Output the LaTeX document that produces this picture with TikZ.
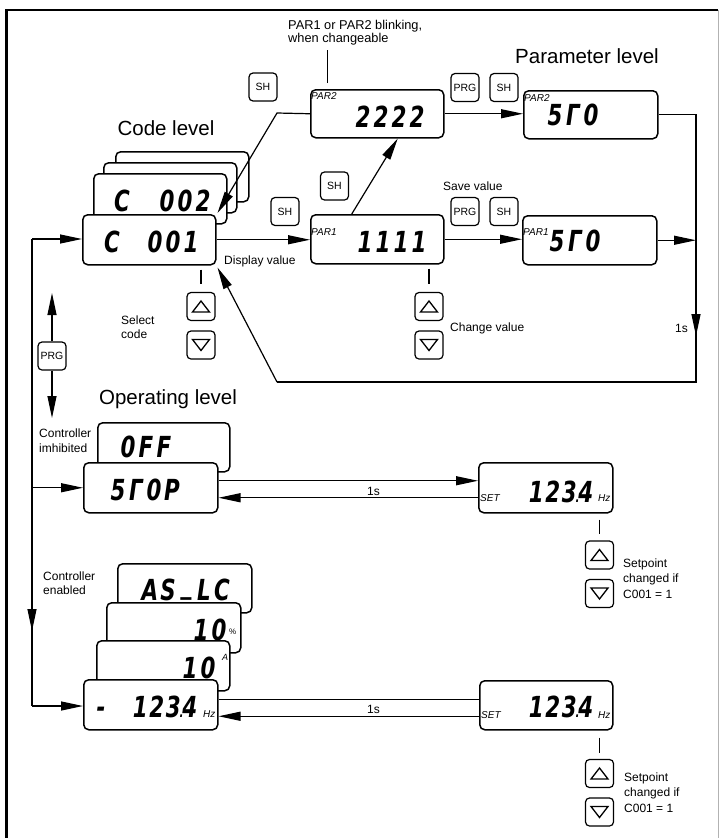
\documentclass[tikz,border=0pt]{standalone}
\usepackage{fontspec}
\setmainfont{Liberation Sans}
\newfontfamily\segf{DejaVu Sans Condensed}[FakeStretch=0.82]
\usetikzlibrary{arrows.meta,calc}
\newcommand\sd[1]{\makebox[18pt][c]{#1}}
\newcommand\sdn[1]{\makebox[16.5pt][c]{#1}}
\newcommand\segdot{\makebox[0pt][c]{\fontsize{14}{14}\selectfont.}}
\begin{document}
\begin{tikzpicture}[x=1pt,y=-1pt,
  disp/.style={draw, line width=1.5pt, rounded corners=5pt, fill=white, anchor=north west, inner sep=0, minimum width=133pt, minimum height=49pt},
  btn/.style={draw, line width=1.2pt, rounded corners=4pt, fill=white, inner sep=0, minimum width=28pt, minimum height=28pt, font=\fontsize{10.5}{11}\selectfont},
  seg/.style={font=\segf\bfseries\itshape\fontsize{29}{29}\selectfont, inner sep=0, anchor=base},
  tag/.style={font=\itshape\fontsize{10}{10}\selectfont, inner sep=0, anchor=base west},
  lab/.style={font=\fontsize{12}{15}\selectfont, inner sep=0, anchor=base west},
  mlab/.style={font=\fontsize{12}{#1}\selectfont, inner sep=0, anchor=north west, align=left},
  big/.style={font=\fontsize{20.5}{24}\selectfont, inner sep=0, anchor=base},
  arr/.style={-{Triangle[length=22pt,width=9pt]}, line width=1.2pt},
  ln/.style={line width=1.2pt},
  uptri/.pic={\draw[line width=1.3pt] (-8.5,5.5)--(8.5,5.5)--(0,-5.5)--cycle;},
  dntri/.pic={\draw[line width=1.3pt] (-8.5,-5.5)--(8.5,-5.5)--(0,5.5)--cycle;}
]
\useasboundingbox (0,0) rectangle (720,838);
% frame
\draw[line width=2.2pt] (6.5,838) -- (6.5,10) -- (718,10);
\draw[gray!60, line width=1pt] (718.5,10) -- (718.5,838);

% ---------- code level ----------
\node[big] (tcode) at (166,135) {Code level};
\node[disp, minimum height=50pt] (cb3) at (115,151) {};
\node[disp, minimum height=50pt] (cb2) at (103,162) {};
\node[disp, minimum height=50pt] (c002) at (93,173) {};
\node[disp, minimum height=50pt] (c001) at (82,214) {};
\node[seg] (c002a) at (122,211) {C};
\node[seg] (c002b) at (185,211) {\sd{0}\sd{0}\sd{2}};
\node[seg] (c001a) at (112,252) {C};
\node[seg] (c001b) at (173,252) {\sd{0}\sd{0}\sd{1}};

% ---------- PAR displays ----------
\node[mlab=13pt, font=\fontsize{12.8}{13}\selectfont] (tblink) at (288,20) {PAR1 or PAR2 blinking,\\when changeable};
\node[disp, minimum height=48pt] (p2) at (310,89) {};
\node[tag] (p2t) at (311,99) {PAR2};
\node[seg] (p2v) at (390,127) {\sd{2}\sd{2}\sd{2}\sd{2}};
\node[disp] (p1) at (310,214) {};
\node[tag] (p1t) at (311,235) {PAR1};
\node[seg] (p1v) at (392,252) {\sd{1}\sd{1}\sd{1}\sd{1}};

\node[big] (tpar) at (587,63) {Parameter level};
\node[disp, minimum height=48pt, minimum width=134pt] (s2) at (523,90) {};
\node[tag] (s2t) at (524,101) {PAR2};
\node[seg] (s2v) at (573,125) {\sd{5}\sd{Γ}\sd{0}};
\node[disp, minimum width=134pt] (s1) at (522,215) {};
\node[tag] (s1t) at (523,235) {PAR1};
\node[seg] (s1v) at (575,251) {\sd{5}\sd{Γ}\sd{0}};

% buttons
\node[btn] (sh1) at (263,87) {SH};
\node[btn] (sh2) at (334.5,186) {SH};
\node[btn] (sh3) at (285,211.5) {SH};
\node[btn] (prg1) at (465,87.5) {PRG};
\node[btn] (sh4) at (504,87.5) {SH};
\node[btn] (prg2) at (465,211.5) {PRG};
\node[btn] (sh5) at (504,211.5) {SH};
\node[btn] (up1) at (201,306.5) {};
\node[btn] (dn1) at (201,345) {};
\node[btn] (up2) at (429,306.5) {};
\node[btn] (dn2) at (429,345) {};
\node[btn] (prgl) at (52,356) {PRG};
\pic at (up1.center) {uptri};
\pic at (dn1.center) {dntri};
\pic at (up2.center) {uptri};
\pic at (dn2.center) {dntri};

\node[lab] (tsave) at (443,190) {Save value};
\node[lab] (tdisp) at (224,264) {Display value};
\node[mlab=14pt] (tsel) at (121,315.5) {Select\\code};
\node[lab] (tchg) at (450,331) {Change value};
\node[lab] (t1s) at (675,332) {1s};

% connectors, upper part
\coordinate (rt) at (696,113);
\coordinate (rb) at (696,382);
\coordinate (lb) at (277,382);
\coordinate (tl) at (277,113);
\coordinate (ra) at (696,300);
\coordinate (rc) at (696,336);
\draw[ln] ([xshift=-49.5pt,yshift=6pt]p2.north) -- ++(0,-33);
\draw[arr] (p2.west) -- (tl) -- ([xshift=1pt,yshift=1pt]c001.north east);
\draw[arr] ([xshift=-25.5pt]p1.north) -- ([xshift=20.5pt]p2.south);
\draw[arr] (c001.east) -- (c001.east -| p1.west);
\draw[arr] (p1.east) -- (p1.east -| s1.west);
\draw[arr] (p2.east) -- (p2.east -| s2.west);
\draw[arr] (s1.east) -- (s1.east -| rt);
\draw[ln] (s2.east) -- (s2.east -| rt) -- (rb) -- (lb);
\draw[arr] (lb) -- ([xshift=1pt,yshift=-2pt]c001.south east);
\draw[arr] (ra) -- (rc);
\draw[ln] ([yshift=-4pt]c001.south -| up1) -- ([yshift=8pt]up1.north);
\draw[ln] ([yshift=-4pt]p1.south -| up2) -- ([yshift=8pt]up2.north);

% left vertical
\coordinate (lt) at (32,239);
\coordinate (lbot) at (32,706);
\coordinate (pu) at (52,293);
\coordinate (pd) at (52,418);
\coordinate (va) at (32,598);
\coordinate (vb) at (32,631);
\draw[ln] (lt) -- (lbot);
\draw[arr] (lt) -- (lt -| c001.west);
\draw[arr] (prgl.north) -- (pu);
\draw[arr] (prgl.south) -- (pd);
\draw[arr] (va) -- (vb);

% ---------- operating level ----------
\node[big] (top) at (168,404) {Operating level};
\node[mlab=15pt] (tinh) at (39,428.5) {Controller\\imhibited};
\node[disp, minimum width=132pt] (off) at (97,422) {};
\node[seg] (offv) at (146,457) {\sd{0}\sd{F}\sd{F}};
\node[disp, minimum width=134pt, minimum height=50pt] (stop) at (83,462) {};
\node[seg] (stopv) at (145,500) {\sd{5}\sd{Γ}\sd{0}\sd{P}};
\node[disp, minimum width=134pt, minimum height=50pt] (set1) at (478,462) {};
\node[tag] (set1t) at (480,501) {SET};
\node[seg] (set1v) at (561,502) {\sdn{1}\sdn{2}\sdn{3}\segdot\sdn{4}};
\node[tag] (set1h) at (598,501) {Hz};
\draw[arr] (lt |- stop.west) -- (stop.west);
\draw[arr] ([yshift=7pt]stop.east) -- ([yshift=7pt]set1.west);
\draw[arr] ([yshift=-10pt]set1.west) -- ([yshift=-10pt]stop.east);
\node[lab] (t1sa) at (367,495) {1s};
\node[btn] (up3) at (599.5,555) {};
\node[btn] (dn3) at (599.5,593.5) {};
\pic at (up3.center) {uptri};
\pic at (dn3.center) {dntri};
\draw[ln] ([yshift=-6pt]set1.south -| up3) -- ([yshift=6pt]up3.north);
\node[mlab=15.5pt] (tsp1) at (623,558.5) {Setpoint\\changed if\\C001 = 1};

% ---------- controller enabled ----------
\node[mlab=14pt] (tena) at (43,571.5) {Controller\\enabled};
\node[disp, minimum width=134pt] (aslc) at (117,563) {};
\node[seg] (aslcv) at (186,600) {\sd{A}\sd{S}\sd{\raisebox{7pt}{\_}}\sd{L}\sd{C}};
\node[disp, minimum width=134pt, minimum height=50pt] (pct) at (106,602) {};
\node[seg] (pctv) at (210,640) {\sd{1}\sd{0}};
\node[font=\fontsize{8}{8}\selectfont, inner sep=0, anchor=base west] (pcts) at (229,634) {\%};
\node[disp, minimum height=50pt] (amp) at (96,640) {};
\node[seg] (ampv) at (199,678) {\sd{1}\sd{0}};
\node[tag, font=\itshape\fontsize{9}{9}\selectfont] (amps) at (222,660) {A};
\node[disp, minimum width=134pt, minimum height=50pt] (minus) at (83,679) {};
\node[seg] (minv1) at (101,717) {-};
\node[seg] (minv2) at (165,717) {\sdn{1}\sdn{2}\sdn{3}\segdot\sdn{4}};
\node[tag] (minh) at (203,717) {Hz};
\node[disp, minimum height=49pt] (set2) at (479,680) {};
\node[tag] (set2t) at (481,718) {SET};
\node[seg] (set2v) at (561,717) {\sdn{1}\sdn{2}\sdn{3}\segdot\sdn{4}};
\node[tag] (set2h) at (598,718) {Hz};
\draw[arr] (lbot) -- (lbot -| minus.west);
\draw[ln] ([yshift=5pt]minus.east) -- ([yshift=5pt]minus.east -| set2.west);
\draw[arr] ([yshift=-11pt]set2.west) -- ([yshift=-11pt]set2.west -| minus.east);
\node[lab] (t1sb) at (367,713) {1s};
\node[btn] (up4) at (599.5,773.5) {};
\node[btn] (dn4) at (599.5,812) {};
\pic at (up4.center) {uptri};
\pic at (dn4.center) {dntri};
\draw[ln] ([yshift=-7pt]set2.south -| up4) -- ([yshift=6pt]up4.north);
\node[mlab=15.5pt] (tsp2) at (624,772.5) {Setpoint\\changed if\\C001 = 1};
\end{tikzpicture}
\end{document}
